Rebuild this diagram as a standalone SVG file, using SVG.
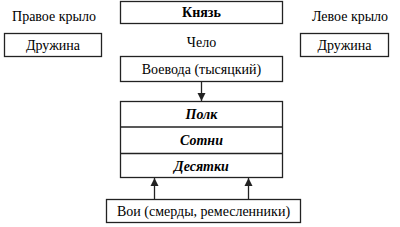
<svg xmlns="http://www.w3.org/2000/svg" width="400" height="227" viewBox="0 0 400 227">
<defs>
<marker id="ah" viewBox="0 0 8 10" refX="8" refY="5" markerWidth="8" markerHeight="10" markerUnits="userSpaceOnUse" orient="auto">
<path d="M0,1 L8,5 L0,9 Z" fill="#222"/>
</marker>
</defs>
<rect width="400" height="227" fill="#fff"/>
<g id="knyaz"><rect x="120.5" y="1.5" width="162" height="22" fill="#fff" stroke="#222" stroke-width="1.3"/><text x="201.5" y="17" font-family="Liberation Serif" font-size="14" font-weight="bold" text-anchor="middle">Князь</text></g>
<g id="right-wing"><text x="54" y="21" font-family="Liberation Serif" font-size="14" text-anchor="middle">Правое крыло</text><rect x="4.5" y="33.5" width="97" height="23" fill="#fff" stroke="#222" stroke-width="1.3"/><text x="53" y="50" font-family="Liberation Serif" font-size="14" text-anchor="middle">Дружина</text></g>
<g id="left-wing"><text x="350" y="21" font-family="Liberation Serif" font-size="14" text-anchor="middle">Левое крыло</text><rect x="300.5" y="33.5" width="88" height="23" fill="#fff" stroke="#222" stroke-width="1.3"/><text x="344.5" y="50" font-family="Liberation Serif" font-size="14" text-anchor="middle">Дружина</text></g>
<g id="chelo"><text x="201.5" y="47" font-family="Liberation Serif" font-size="14" text-anchor="middle">Чело</text></g>
<g id="voevoda"><rect x="120.5" y="56.5" width="162" height="25" fill="#fff" stroke="#222" stroke-width="1.3"/><text x="201.5" y="74" font-family="Liberation Serif" font-size="14" text-anchor="middle">Воевода (тысяцкий)</text></g>
<g id="units">
<rect x="120.5" y="101.5" width="162" height="76" fill="#fff" stroke="#222" stroke-width="1.3"/>
<line x1="120.5" y1="127" x2="282.5" y2="127" stroke="#222" stroke-width="1.3"/>
<line x1="120.5" y1="153.5" x2="282.5" y2="153.5" stroke="#222" stroke-width="1.3"/>
<text x="201.5" y="119" font-family="Liberation Serif" font-size="14" font-weight="bold" font-style="italic" text-anchor="middle">Полк</text>
<text x="201.5" y="145" font-family="Liberation Serif" font-size="14" font-weight="bold" font-style="italic" text-anchor="middle">Сотни</text>
<text x="201.5" y="171" font-family="Liberation Serif" font-size="14" font-weight="bold" font-style="italic" text-anchor="middle">Десятки</text>
</g>
<g id="voi"><rect x="106.5" y="199.5" width="194" height="23" fill="#fff" stroke="#222" stroke-width="1.3"/><text x="203.5" y="216" font-family="Liberation Serif" font-size="14" text-anchor="middle">Вои (смерды, ремесленники)</text></g>
<g id="connectors" stroke="#222" stroke-width="1.3" fill="none">
<line x1="201.5" y1="82" x2="201.5" y2="101" marker-end="url(#ah)"/>
<line x1="154.5" y1="199" x2="154.5" y2="178" marker-end="url(#ah)"/>
<line x1="248.5" y1="199" x2="248.5" y2="178" marker-end="url(#ah)"/>
</g>
</svg>
